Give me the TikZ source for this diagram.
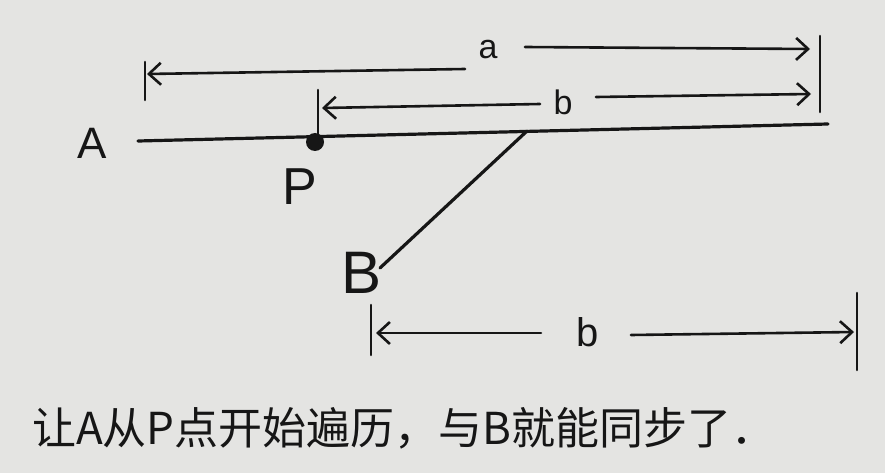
\documentclass[tikz,border=0pt]{standalone}
\usepackage{fontspec}
\setmainfont{Liberation Sans}
\newfontfamily\cjk{Noto Sans CJK SC}
\usetikzlibrary{arrows.meta}
\definecolor{paper}{RGB}{228,228,226}
\definecolor{ink}{RGB}{22,22,22}
\tikzset{
  ink/.style={draw=ink, line width=3.2pt, line cap=round},
  tick/.style={ink, line width=2.6pt},
  dimarrow/.style={ink, line width=2.6pt, -{Straight Barb[length=12pt,width=22pt,line width=2.6pt]}},
  lbl/.style={text=ink, inner sep=1pt, font=\fontsize{34}{34}\selectfont},
  biglbl/.style={text=ink, inner sep=1pt, font=\fontsize{52}{52}\selectfont}
}
\begin{document}
\begin{tikzpicture}[x=1pt,y=-1pt]
\fill[paper] (0,0) rectangle (885,473);
\useasboundingbox (0,0) rectangle (885,473);
% main line A
\coordinate (mainL) at (138,141);
\coordinate (mainR) at (828,124);
\draw[ink] (mainL) -- (mainR);
\node[biglbl, font=\fontsize{44}{44}\selectfont] (A) at (92,143) {A};
% P point
\node[circle, fill=ink, minimum size=18pt, inner sep=0pt] (Pdot) at (315,142) {};
\node[biglbl] (P) at (300,187) {P};
% branch B
\coordinate (join) at (527,131);
\coordinate (Bend) at (380,268);
\draw[ink] (join) -- (Bend);
\node[biglbl, font=\fontsize{60}{60}\selectfont] (B) at (362,273) {B};
% ticks
\coordinate (aLt) at (145,62); \coordinate (aLb) at (145,100);
\coordinate (rTt) at (820,36); \coordinate (rTb) at (820,112);
\coordinate (pTt) at (318,90); \coordinate (pTb) at (318,136);
\draw[tick] (aLt) -- (aLb);
\draw[tick] (rTt) -- (rTb);
\draw[tick] (pTt) -- (pTb);
% a arrow
\node[lbl] (la) at (488,50) {a};
\coordinate (aL) at (147,74);
\coordinate (aR) at (810,49);
\draw[dimarrow] (465,69) -- (aL);
\draw[dimarrow] (525,47) -- (aR);
% b arrow (top)
\node[lbl] (lb1) at (563,102) {b};
\coordinate (bL) at (322,108);
\coordinate (bR) at (811,94);
\draw[dimarrow] (540,104) -- (bL);
\draw[dimarrow] (596,97) -- (bR);
% bottom b arrow
\coordinate (cLt) at (371,305); \coordinate (cLb) at (371,355);
\coordinate (cRt) at (857,293); \coordinate (cRb) at (857,370);
\draw[tick] (cLt) -- (cLb);
\draw[tick] (cRt) -- (cRb);
\node[lbl, font=\fontsize{40}{40}\selectfont] (lb2) at (588,332) {b};
\coordinate (cL) at (376,333);
\coordinate (cR) at (854,332);
\draw[dimarrow] (541,333) -- (cL);
\draw[dimarrow] (631,335) -- (cR);
% caption
\node[text=ink, anchor=west, inner sep=0pt, font=\cjk\fontsize{44}{44}\selectfont] (cap) at (32,428) {让A从P点开始遍历，与B就能同步了．};
\end{tikzpicture}
\end{document}
